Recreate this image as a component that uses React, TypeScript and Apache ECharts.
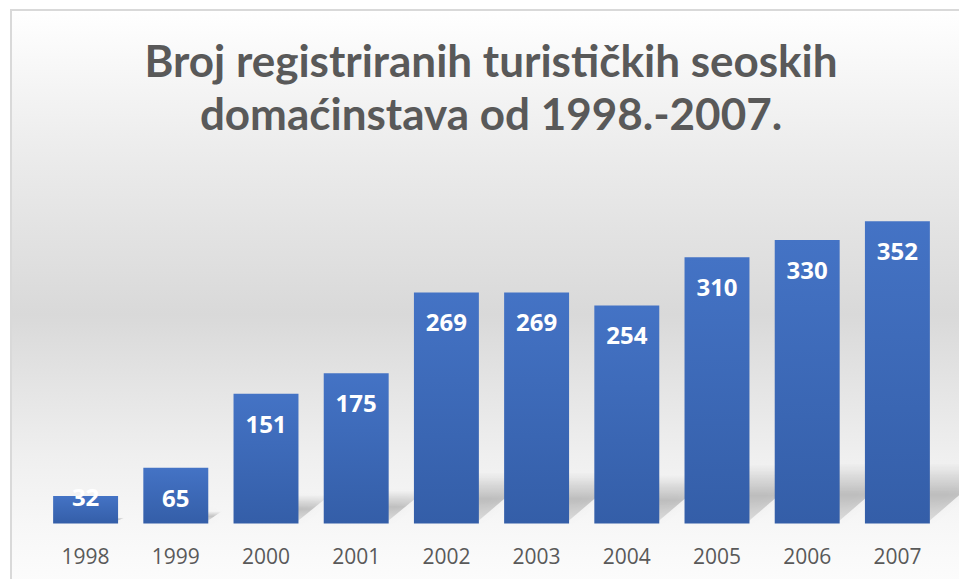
import React, { useEffect, useRef } from "react";
import * as echarts from "echarts";

const titleLines = ["Broj registriranih turističkih seoskih", "domaćinstava od 1998.-2007."];
const years = ["1998", "1999", "2000", "2001", "2002", "2003", "2004", "2005", "2006", "2007"];
const households = [32, 65, 151, 175, 269, 269, 254, 310, 330, 352];

export default function App() {
  const ref = useRef<HTMLDivElement>(null);
  useEffect(() => {
    if (!ref.current) return;
    const chart = echarts.init(ref.current, null, { renderer: "svg" });
    const barRatio = 0.72;
    const option = {
      animation: false,
      graphic: [
        {
          type: "rect",
          z: -10,
          shape: { x: 11, y: 10, width: 975, height: 585 },
          style: {
            fill: new echarts.graphic.LinearGradient(0, 0, 0, 1, [
              { offset: 0, color: "#ffffff" },
              { offset: 0.24, color: "#ececec" },
              { offset: 0.52, color: "#d9d9d9" },
              { offset: 0.76, color: "#efefef" },
              { offset: 0.88, color: "#f7f7f7" },
              { offset: 1, color: "#fdfdfd" },
            ]),
            stroke: "#d9d9d9",
            lineWidth: 2,
          },
        },
        {
          type: "text",
          x: 491,
          y: 86,
          z: 10,
          style: {
            text: titleLines.join("\n"),
            align: "center",
            verticalAlign: "middle",
            fontFamily: "Lato",
            fontWeight: "bold",
            fontSize: 44,
            lineHeight: 53,
            fill: "#595959",
          },
        },
      ],
      grid: { left: 40.5, top: 180, width: 902, height: 343.5 },
      xAxis: {
        type: "category",
        data: years,
        axisLine: { show: false },
        axisTick: { show: false },
        axisLabel: {
          color: "#595959",
          fontFamily: "Open Sans",
          fontSize: 21,
          margin: 22,
        },
      },
      yAxis: {
        type: "value",
        min: 0,
        max: 400,
        show: false,
        splitLine: { show: false },
      },
      series: [
        {
          type: "custom",
          z: 1,
          data: households.map((v, i) => [i, v]),
          renderItem: (params: any, api: any) => {
            const idx = api.value(0);
            const v = api.value(1);
            const base = api.coord([idx, 0]);
            const top = api.coord([idx, v]);
            const half = (api.size([1, 0])[0] * barRatio) / 2;
            const h = Math.min((base[1] - top[1]) * 0.22, 60);
            const dx = h * 1.1;
            return {
              type: "polygon",
              shape: {
                points: [
                  [base[0] - half, base[1] - 3],
                  [base[0] + half, base[1] - 3],
                  [base[0] + half + dx, base[1] - h],
                  [base[0] - half + dx, base[1] - h],
                ],
              },
              style: {
                fill: new echarts.graphic.LinearGradient(0, 0, 0, 1, [
                  { offset: 0, color: "rgba(0,0,0,0)" },
                  { offset: 0.55, color: "rgba(0,0,0,0.2)" },
                  { offset: 1, color: "rgba(0,0,0,0.1)" },
                ]),
                shadowBlur: 10,
                shadowColor: "rgba(0,0,0,0.15)",
              },
            };
          },
        },
        {
          type: "bar",
          z: 3,
          barCategoryGap: "28%",
          data: households.map((v) => ({
            value: v,
            label: v < 50 ? { offset: [0, -29] } : undefined,
          })),
          itemStyle: {
            color: new echarts.graphic.LinearGradient(0, 0, 0, 1, [
              { offset: 0, color: "#4473c5" },
              { offset: 1, color: "#345ea8" },
            ]),
          },
          label: {
            show: true,
            position: "insideTop",
            distance: 16.5,
            color: "#ffffff",
            fontFamily: "Open Sans",
            fontWeight: "bold",
            fontSize: 24,
            lineHeight: 26,
          },
        },
      ],
    };
    chart.setOption(option as any);
    return () => chart.dispose();
  }, []);
  return (
    <div
      ref={ref}
      style={{ position: "fixed", left: 0, top: 0, width: 959, height: 579, background: "#ffffff" }}
    />
  );
}
